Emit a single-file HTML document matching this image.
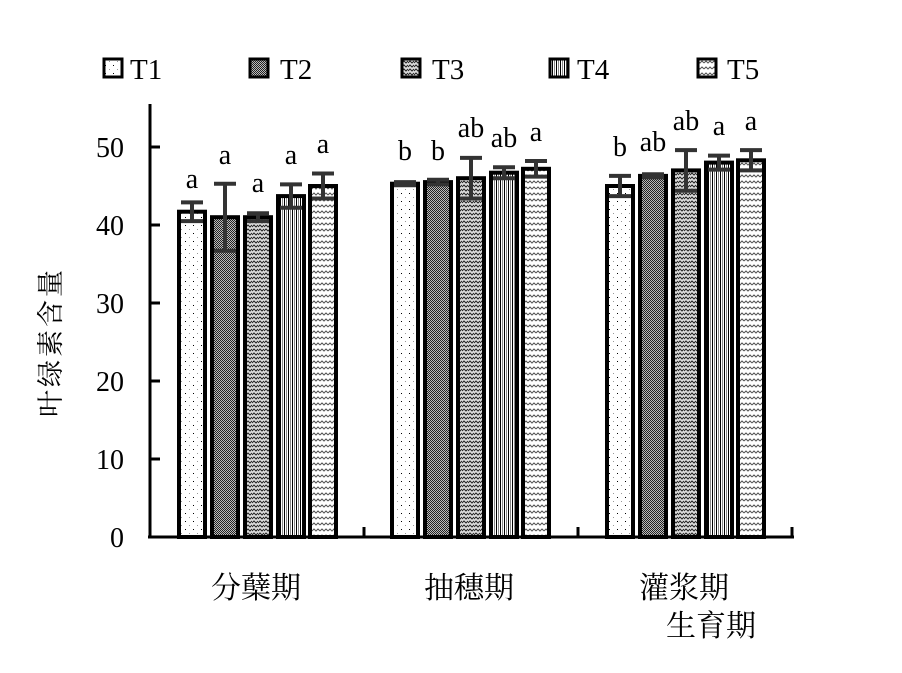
<!DOCTYPE html>
<html><head><meta charset="utf-8"><style>body{margin:0;background:#fff}svg{display:block}</style></head><body>
<svg width="902" height="673" xmlns="http://www.w3.org/2000/svg">
<defs>
<pattern id="p1" width="8" height="8" patternUnits="userSpaceOnUse"><rect width="8" height="8" fill="#fff"/><rect x="1" y="1" width="1" height="1" fill="#000"/><rect x="5" y="5" width="1" height="1" fill="#999"/></pattern>
<pattern id="p2" width="2" height="2" patternUnits="userSpaceOnUse"><rect width="2" height="2" fill="#bbb"/><rect width="1" height="1" fill="#222"/><rect x="1" y="1" width="1" height="1" fill="#222"/></pattern>
<pattern id="p3" width="6" height="4" patternUnits="userSpaceOnUse"><rect width="6" height="4" fill="#ddd"/><path d="M0 3 L2 1 L4 3 L6 1" stroke="#222" stroke-width="1" fill="none"/></pattern>
<pattern id="p4" width="4" height="4" patternUnits="userSpaceOnUse"><rect width="4" height="4" fill="#fff"/><rect x="0" width="1" height="4" fill="#000"/><rect x="2" width="1" height="4" fill="#888"/></pattern>
<pattern id="p5" width="8" height="6" patternUnits="userSpaceOnUse"><rect width="8" height="6" fill="#fff"/><path d="M0 3 L2 1 L4 3 L6 1 L8 3" stroke="#555" stroke-width="1" fill="none"/></pattern>
</defs>
<g font-family="Liberation Serif, serif" font-size="29" fill="#000">
<g stroke="#000" stroke-width="3">
<rect x="104" y="59" width="18" height="18" fill="url(#p1)"/>
<rect x="250" y="59" width="18" height="18" fill="url(#p2)"/>
<rect x="402" y="59" width="18" height="18" fill="url(#p3)"/>
<rect x="550" y="59" width="18" height="18" fill="url(#p4)"/>
<rect x="698" y="59" width="18" height="18" fill="url(#p5)"/>
</g>
<text x="130" y="79">T1</text><text x="280" y="79">T2</text><text x="432" y="79">T3</text><text x="577" y="79">T4</text><text x="727" y="79">T5</text>
<g stroke="#000" stroke-width="3">
<line x1="150" y1="104" x2="150" y2="538"/>
<line x1="148" y1="537" x2="794" y2="537"/>
<line x1="150" y1="147" x2="160" y2="147"/><line x1="150" y1="225" x2="160" y2="225"/><line x1="150" y1="303" x2="160" y2="303"/><line x1="150" y1="381" x2="160" y2="381"/><line x1="150" y1="459" x2="160" y2="459"/>
<line x1="364" y1="537" x2="364" y2="527"/><line x1="578" y1="537" x2="578" y2="527"/><line x1="792" y1="537" x2="792" y2="527"/>
</g>
<g text-anchor="end" font-size="28"><text x="124" y="157">50</text><text x="124" y="235">40</text><text x="124" y="313">30</text><text x="124" y="391">20</text><text x="124" y="469">10</text><text x="124" y="547">0</text></g>
<text transform="translate(60,342) rotate(-90)" text-anchor="middle" font-family="Liberation Serif, Noto Serif CJK SC, serif" font-size="27" letter-spacing="3">叶绿素含量</text>
<g font-family="Liberation Serif, Noto Serif CJK SC, serif" font-size="30">
<text x="211" y="598">分蘖期</text><text x="424" y="598">抽穗期</text><text x="639" y="598">灌浆期</text><text x="666" y="636">生育期</text>
</g>
<g stroke="#000" stroke-width="4">
<rect x="179" y="211.7" width="26" height="325.3" fill="url(#p1)"/>
<rect x="212" y="217.2" width="26" height="319.8" fill="url(#p2)"/>
<rect x="245" y="217.2" width="26" height="319.8" fill="url(#p3)"/>
<rect x="278" y="196.1" width="26" height="340.9" fill="url(#p4)"/>
<rect x="310" y="186" width="26" height="351" fill="url(#p5)"/>
<rect x="392" y="183.7" width="26" height="353.3" fill="url(#p1)"/>
<rect x="425" y="182.1" width="26" height="354.9" fill="url(#p2)"/>
<rect x="458" y="178.2" width="26" height="358.8" fill="url(#p3)"/>
<rect x="491" y="172.7" width="26" height="364.3" fill="url(#p4)"/>
<rect x="523" y="168.8" width="26" height="368.2" fill="url(#p5)"/>
<rect x="607" y="186" width="26" height="351" fill="url(#p1)"/>
<rect x="640" y="175.9" width="26" height="361.1" fill="url(#p2)"/>
<rect x="673" y="170.4" width="26" height="366.6" fill="url(#p3)"/>
<rect x="706" y="162.6" width="26" height="374.4" fill="url(#p4)"/>
<rect x="738" y="160.3" width="26" height="376.7" fill="url(#p5)"/>
</g>
<g stroke="#333" stroke-width="4" fill="none">
<path d="M192 202.4V221.1M181 202.4H203M181 221.1H203"/>
<path d="M225 183.7V250.7M214 183.7H236M214 250.7H236"/>
<path d="M258 213.3V221.1M247 213.3H269M247 221.1H269"/>
<path d="M291 184.4V207.8M280 184.4H302M280 207.8H302"/>
<path d="M323 173.5V198.5M312 173.5H334M312 198.5H334"/>
<path d="M405 182.1V185.2M394 182.1H416M394 185.2H416"/>
<path d="M438 179.8V184.4M427 179.8H449M427 184.4H449"/>
<path d="M471 157.9V198.5M460 157.9H482M460 198.5H482"/>
<path d="M504 167.3V178.2M493 167.3H515M493 178.2H515"/>
<path d="M536 161V176.6M525 161H547M525 176.6H547"/>
<path d="M620 175.9V196.1M609 175.9H631M609 196.1H631"/>
<path d="M653 174.3V177.4M642 174.3H664M642 177.4H664"/>
<path d="M686 150.1V190.7M675 150.1H697M675 190.7H697"/>
<path d="M719 155.6V169.6M708 155.6H730M708 169.6H730"/>
<path d="M751 150.1V170.4M740 150.1H762M740 170.4H762"/>
</g>
<g text-anchor="middle" font-size="28">
<text x="192" y="188">a</text><text x="225" y="164">a</text><text x="258" y="192">a</text><text x="291" y="164">a</text><text x="323" y="153">a</text>
<text x="405" y="160">b</text><text x="438" y="160">b</text><text x="471" y="137">ab</text><text x="504" y="147">ab</text><text x="536" y="141">a</text>
<text x="620" y="156">b</text><text x="653" y="151">ab</text><text x="686" y="130">ab</text><text x="719" y="135">a</text><text x="751" y="130">a</text>
</g>
</g>
</svg>
</body></html>
